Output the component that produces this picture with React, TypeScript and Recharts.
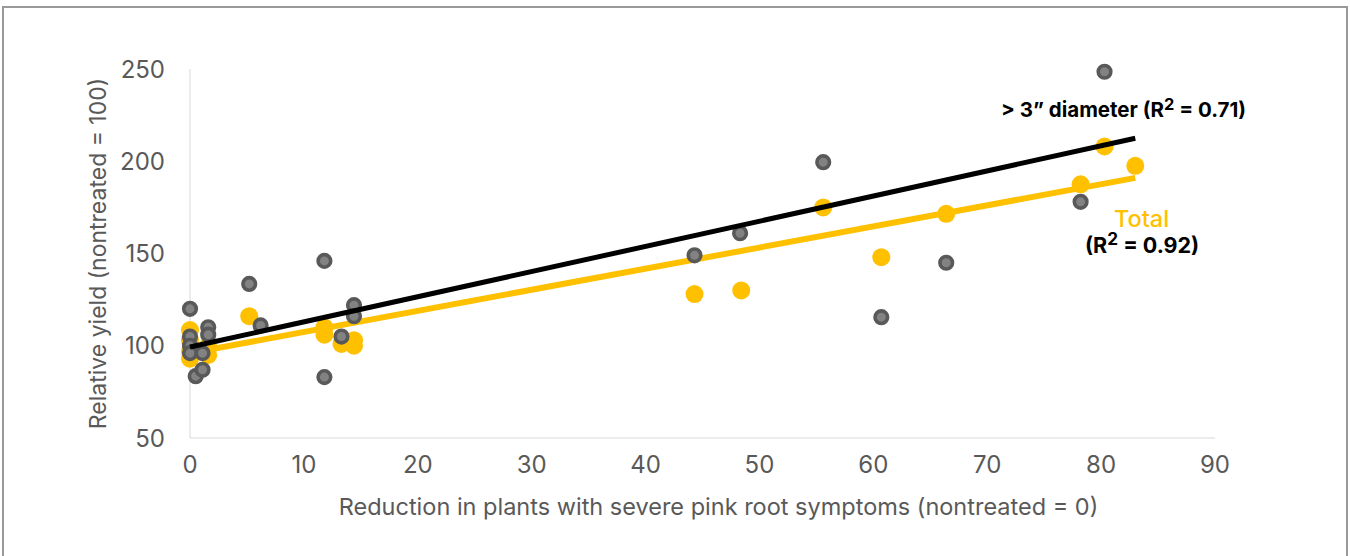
import { ScatterChart, Scatter, XAxis, YAxis } from "recharts";

// x: reduction in plants with severe pink root symptoms, y: relative yield
const bigX = [0, 0, 0, 0, 0.5, 1.1, 1.6, 1.6, 1.1, 5.2, 6.2, 11.8, 11.8, 13.3, 14.4, 14.4, 44.3, 48.3, 55.6, 60.7, 66.4, 78.2, 80.3];
const bigY = [120, 105, 100, 96, 83.5, 87, 110, 106, 96, 133.5, 111, 146, 83, 105, 122, 116, 149, 161, 199.5, 115.5, 145, 178, 248.5];

const totalX = [0, 0, 0, 0, 1.6, 1.6, 5.2, 11.8, 11.8, 13.3, 14.4, 14.4, 44.3, 48.4, 55.6, 60.7, 66.4, 78.2, 80.3, 83];
const totalY = [108.5, 103, 97, 93, 100, 95, 116, 110, 106, 101, 103, 100, 128, 130, 175, 148, 171.5, 187.5, 208, 197.5];

// trend line end points
const bigFit = [{ x: 0, y: 99.3 }, { x: 83, y: 212.5 }];
const totalFit = [{ x: 0, y: 96 }, { x: 83, y: 191 }];

const xTicks = [0, 10, 20, 30, 40, 50, 60, 70, 80, 90];
const yTicks = [50, 100, 150, 200, 250];

const zip = (xs: number[], ys: number[]) => xs.map((x, i) => ({ x, y: ys[i] }));
const bigData = zip(bigX, bigY);
const totalData = zip(totalX, totalY);

const font = "Inter, 'Open Sans', sans-serif";
const gray = "#595959";
const gold = "#FFC000";

const GrayDot = (p: any) => (
  <circle cx={p.cx} cy={p.cy} r={6.3} fill="#828282" stroke="#595959" strokeWidth={3.6} />
);
const GoldDot = (p: any) => <circle cx={p.cx} cy={p.cy} r={9} fill={gold} />;
const NoDot = () => <g />;

const sup = { fontSize: "0.8em", verticalAlign: "0.45em", lineHeight: 0 };

export default function App() {
  return (
    <div style={{ position: "absolute", left: 0, top: 0, width: 1350, height: 556, background: "#fff", overflow: "hidden", fontFamily: font }}>
      <div style={{ position: "absolute", left: 2, top: 6, width: 1342, height: 600, border: "2px solid #999" }} />
      <ScatterChart width={1350} height={556} margin={{ top: 69, right: 135, bottom: 0, left: 0 }} style={{ position: "absolute", left: 0, top: 0 }}>
        <XAxis
          type="number"
          dataKey="x"
          domain={[0, 90]}
          ticks={xTicks}
          height={118}
          stroke="#d9d9d9"
          tickLine={false}
          tickSize={6}
          tickMargin={12}
          tick={{ fill: gray, fontSize: 24, fontFamily: font }}
          label={{ value: "Reduction in plants with severe pink root symptoms (nontreated = 0)", position: "insideBottom", offset: 41, dx: 16, fill: gray, fontSize: 23.5, fontFamily: font }}
        />
        <YAxis
          type="number"
          dataKey="y"
          domain={[50, 250]}
          ticks={yTicks}
          width={190}
          stroke="#d9d9d9"
          tickLine={false}
          tickSize={6}
          tickMargin={19}
          tick={{ fill: gray, fontSize: 24, fontFamily: font }}
          label={{ value: "Relative yield (nontreated = 100)", angle: -90, position: "insideLeft", offset: 98, fill: gray, fontSize: 23, fontFamily: font, style: { textAnchor: "middle" } }}
        />
        <Scatter data={totalData} shape={GoldDot} isAnimationActive={false} />
        <Scatter data={totalFit} shape={NoDot} line={{ stroke: gold, strokeWidth: 6 }} isAnimationActive={false} />
        <Scatter data={bigData} shape={GrayDot} isAnimationActive={false} />
        <Scatter data={bigFit} shape={NoDot} line={{ stroke: "#000", strokeWidth: 5 }} isAnimationActive={false} />
      </ScatterChart>
      <div style={{ position: "absolute", left: 1001, top: 97, fontSize: 20.5, fontWeight: 700, color: "#000", whiteSpace: "nowrap" }}>
        {"> 3\u201D diameter (R"}<span style={sup}>2</span>{" = 0.71)"}
      </div>
      <div style={{ position: "absolute", left: 1114, top: 204, fontSize: 23.5, fontWeight: 500, color: gold, whiteSpace: "nowrap" }}>
        Total
      </div>
      <div style={{ position: "absolute", left: 1085, top: 232, fontSize: 21.5, fontWeight: 700, color: "#000", whiteSpace: "nowrap" }}>
        {"(R"}<span style={sup}>2</span>{" = 0.92)"}
      </div>
    </div>
  );
}
